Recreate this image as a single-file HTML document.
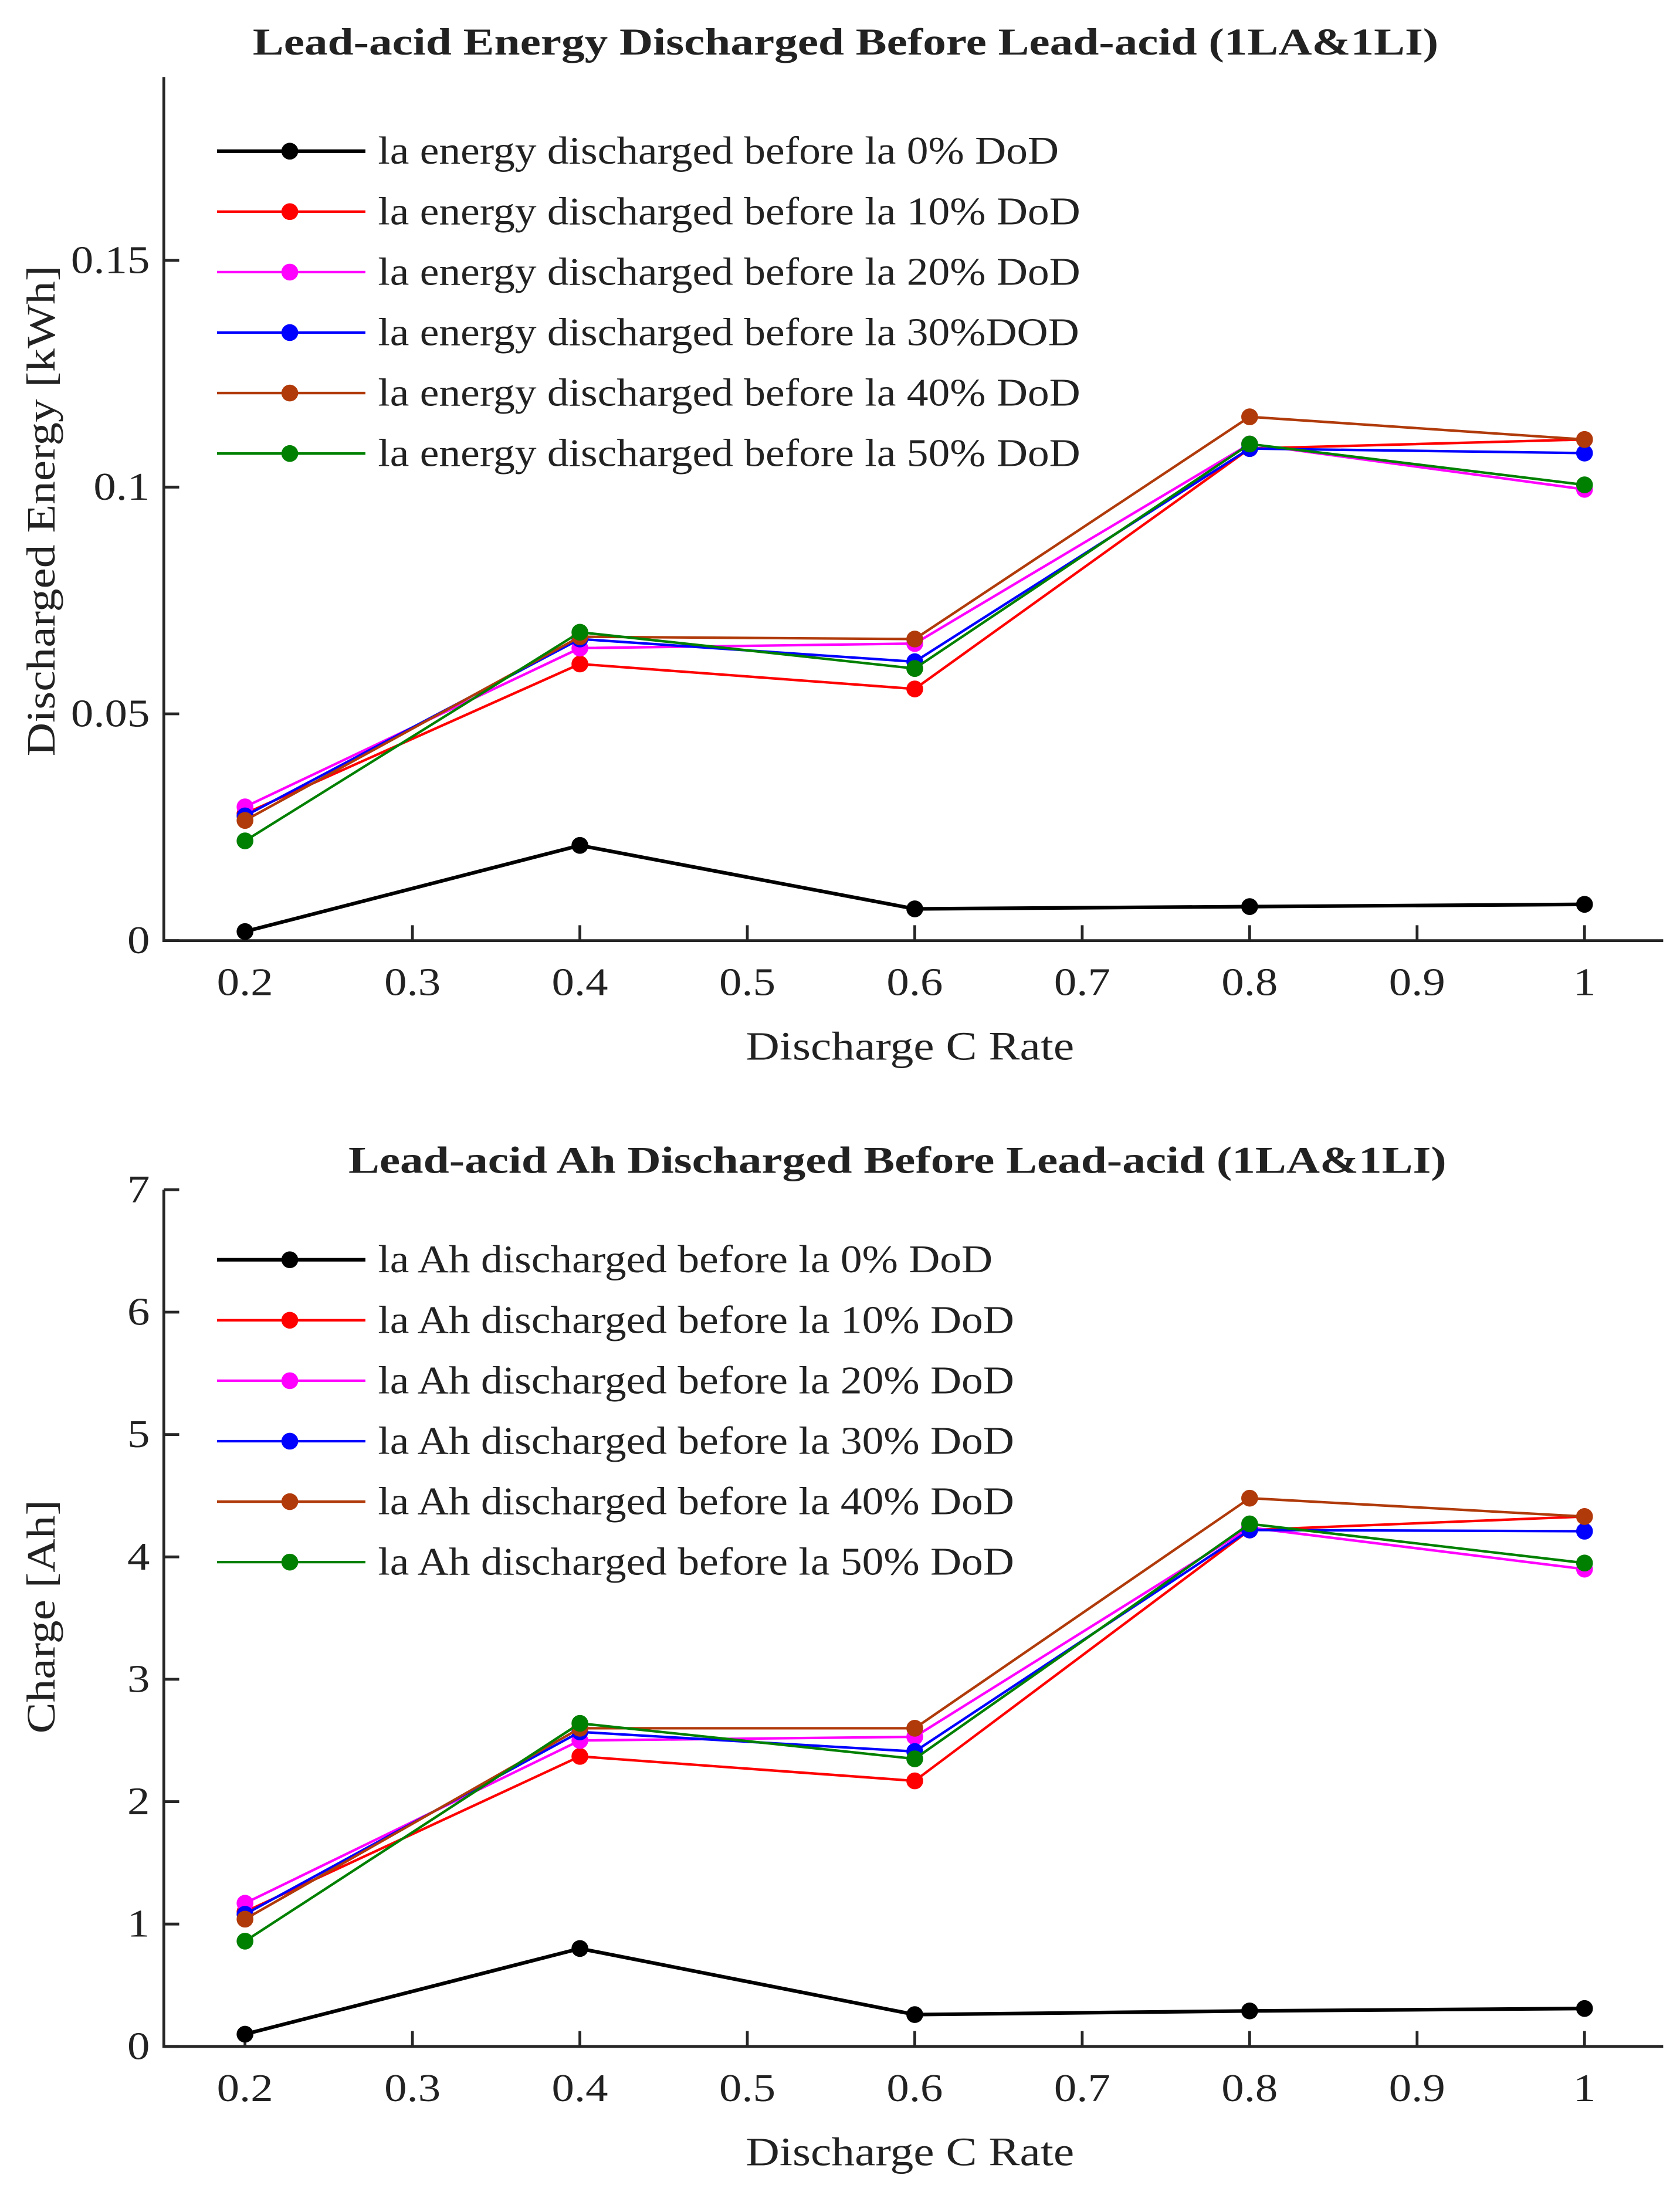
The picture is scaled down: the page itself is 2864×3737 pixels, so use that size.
<!DOCTYPE html>
<html><head><meta charset="utf-8"><style>
html,body{margin:0;padding:0;background:#fff;}
svg{display:block;}
text{font-family:"Liberation Serif",serif;fill:#222;}
</style></head><body>
<svg id="chart" width="2864" height="3737" viewBox="0 0 1200 1566" preserveAspectRatio="none" xmlns="http://www.w3.org/2000/svg"></svg>
<script>
const xCats = [0.2, 0.4, 0.6, 0.8, 1.0];
const xTicks = [0.2, 0.3, 0.4, 0.5, 0.6, 0.7, 0.8, 0.9, 1];
const xTickLabels = ["0.2","0.3","0.4","0.5","0.6","0.7","0.8","0.9","1"];
const seriesColors = ["#000000","#ff0000","#ff00ff","#0000ff","#b03a0a","#008000"];

const eTicks = [0, 0.05, 0.1, 0.15];
const eTickLabels = ["0","0.05","0.1","0.15"];
const eLegend = ["la energy discharged before la 0% DoD","la energy discharged before la 10% DoD","la energy discharged before la 20% DoD","la energy discharged before la 30%DOD","la energy discharged before la 40% DoD","la energy discharged before la 50% DoD"];
const e0 = [0.002, 0.021, 0.007, 0.0075, 0.008];
const e10 = [0.028, 0.061, 0.0555, 0.1085, 0.1105];
const e20 = [0.0295, 0.0645, 0.0655, 0.1095, 0.0995];
const e30 = [0.0275, 0.0665, 0.0615, 0.1085, 0.1075];
const e40 = [0.0265, 0.067, 0.0665, 0.1155, 0.1105];
const e50 = [0.022, 0.068, 0.060, 0.1095, 0.1005];

const aTicks = [0,1,2,3,4,5,6,7];
const aTickLabels = ["0","1","2","3","4","5","6","7"];
const aLegend = ["la Ah discharged before la 0% DoD","la Ah discharged before la 10% DoD","la Ah discharged before la 20% DoD","la Ah discharged before la 30% DoD","la Ah discharged before la 40% DoD","la Ah discharged before la 50% DoD"];
const a0 = [0.1, 0.8, 0.26, 0.29, 0.31];
const a10 = [1.1, 2.37, 2.17, 4.22, 4.33];
const a20 = [1.17, 2.5, 2.53, 4.24, 3.9];
const a30 = [1.08, 2.57, 2.41, 4.22, 4.21];
const a40 = [1.04, 2.6, 2.6, 4.48, 4.33];
const a50 = [0.86, 2.64, 2.35, 4.27, 3.95];

const NS = "http://www.w3.org/2000/svg";
const svg = document.getElementById("chart");
function mk(tag, attrs, parent){const e=document.createElementNS(NS,tag);for(const k in attrs)e.setAttribute(k,attrs[k]);(parent||svg).appendChild(e);return e;}
function stretch(el, f){
  try{const w=el.getComputedTextLength(); if(w>0){el.setAttribute("textLength", w*f); el.setAttribute("lengthAdjust","spacingAndGlyphs");}}catch(e){}
}

function drawPanel(cfg){
  const g = mk("g",{});
  
  
  const xs = v => 175 + (v-0.2)/0.1*119.6;
  const ys = v => cfg.y0 + (v-cfg.yMin)/(cfg.yMax-cfg.yMin)*(cfg.yTop-cfg.y0);
  const t = mk("text",{x:cfg.titleX,y:cfg.titleY,"text-anchor":"middle","font-size":27,"font-weight":"bold",fill:"#000"},g);
  t.textContent = cfg.title;
  
  
  stretch(t, 1.23);
  const ax = mk("path",{d:`M117,${cfg.axTop} L117,${cfg.y0} L1188,${cfg.y0}`,stroke:"#262626","stroke-width":2,fill:"none"},g);
  
  
  xTicks.forEach((v,i)=>{
    const x=xs(v);
    const tk = mk("line",{x1:x,x2:x,y1:cfg.y0,y2:cfg.y0-11,stroke:"#262626","stroke-width":2},g);
    
    
    const lb = mk("text",{x:x,y:cfg.y0+39,"text-anchor":"middle","font-size":28},g);
    lb.textContent = xTickLabels[i];
    
    
    stretch(lb, 1.15);
  });
  cfg.yTicks.forEach((v,i)=>{
    const y=ys(v);
    const tk = mk("line",{x1:117,x2:128,y1:y,y2:y,stroke:"#262626","stroke-width":2},g);
    
    
    const lb = mk("text",{x:107,y:y+9,"text-anchor":"end","font-size":28},g);
    lb.textContent = cfg.yTickLabels[i];
    
    
    stretch(lb, 1.15);
  });
  const xl = mk("text",{x:650,y:cfg.y0+85,"text-anchor":"middle","font-size":29},g);
  xl.textContent = "Discharge C Rate";
  
  
  stretch(xl, 1.15);
  const yl = mk("text",{x:0,y:0,"text-anchor":"middle","font-size":29,transform:`translate(39,${cfg.yLabelY}) rotate(-90)`},g);
  yl.textContent = cfg.yLabel;
  
  
  stretch(yl, 1.15);
  cfg.series.forEach((vals,si)=>{
    const c = seriesColors[si];
    const sg = mk("g",{},g);
    
    
    const pts = vals.map((v,i)=>xs(xCats[i])+","+ys(v)).join(" ");
    const pl = mk("polyline",{points:pts,fill:"none",stroke:c,"stroke-width":si===0?2.6:1.8},sg);
    
    
    vals.forEach((v,i)=>{
      const m = mk("circle",{cx:xs(xCats[i]),cy:ys(v),r:6,fill:c},sg);
      
      
    });
  });
  cfg.legend.forEach((txt,i)=>{
    const y = cfg.legY + i*43.2;
    const lg = mk("g",{},g);
    
    
    mk("line",{x1:155,x2:261,y1:y,y2:y,stroke:seriesColors[i],"stroke-width":i===0?2.6:1.8},lg);
    mk("circle",{cx:207,cy:y,r:6,fill:seriesColors[i]},lg);
    const lt = mk("text",{x:270,y:y+9,"font-size":28,fill:"#000"},lg);
    lt.textContent = txt;
    stretch(lt, 1.1);
  });
}

drawPanel({name:"energy-chart",title:"Lead-acid Energy Discharged Before Lead-acid (1LA&1LI)",titleX:604,titleY:39,
  axTop:55,y0:672,yTop:186,yMin:0,yMax:0.15,yTicks:eTicks,yTickLabels:eTickLabels,
  yLabel:"Discharged Energy [kWh]",yLabelY:365,legY:108,legend:eLegend,
  series:[e0,e10,e20,e30,e40,e50]});
drawPanel({name:"ah-chart",title:"Lead-acid Ah Discharged Before Lead-acid (1LA&1LI)",titleX:641,titleY:838,
  axTop:850,y0:1462,yTop:850,yMin:0,yMax:7,yTicks:aTicks,yTickLabels:aTickLabels,
  yLabel:"Charge [Ah]",yLabelY:1155,legY:900,legend:aLegend,
  series:[a0,a10,a20,a30,a40,a50]});
</script>
</body></html>
